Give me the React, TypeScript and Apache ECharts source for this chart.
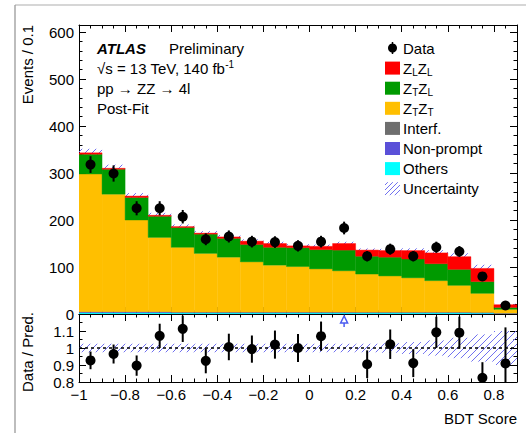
import React, { useEffect, useRef } from "react";
import * as echarts from "echarts";

// ---------------- data ----------------
const binCenters = [-0.95, -0.85, -0.75, -0.65, -0.55, -0.45, -0.35, -0.25, -0.15, -0.05, 0.05, 0.15, 0.25, 0.35, 0.45, 0.55, 0.65, 0.75, 0.85];
const binHalfWidth = 0.05;

const others = [3, 3, 3, 3, 2.5, 2.5, 2.5, 2.5, 2.5, 2.5, 2.5, 2.5, 2.5, 2.5, 2.5, 2.5, 2.5, 2, 1];
const nonPrompt = [1.5, 1.5, 1.5, 1.5, 1, 1, 1, 1, 1, 1, 1, 1, 1, 1, 1, 1, 1, 1, 0.5];
const interf = [0.5, 0.5, 0.5, 0.5, 0.5, 0.5, 0.5, 0.5, 0.5, 0.5, 0.5, 0.5, 0.5, 0.5, 0.5, 0.5, 0.5, 0.5, 0.5];
const ztzt = [293, 250, 195, 158, 138, 125, 117, 107, 100, 97, 92, 88, 81, 77, 73, 67, 57, 40.5, 8];
const ztzl = [42, 53, 48, 45, 42, 41, 40, 37, 38, 40, 41, 44, 38, 40, 40, 36, 34, 25, 4];
const zlzl = [3, 2, 3, 2, 2, 2, 3, 7, 8, 4, 7, 14, 13, 14, 18, 23, 27, 28, 5.8];

const dataCounts = [318, 299, 225, 225, 207, 159, 165, 154, 153, 145, 154, 183, 123, 138, 123, 142, 133, 80, 18];
const dataErrors = [17.8, 17.3, 15, 15, 14.4, 12.6, 12.8, 12.4, 12.4, 12, 12.4, 13.5, 11.1, 11.7, 11.1, 11.9, 11.5, 8.9, 4.2];
const relUncertainty = [0.025, 0.025, 0.025, 0.025, 0.025, 0.025, 0.025, 0.025, 0.025, 0.025, 0.025, 0.025, 0.025, 0.028, 0.035, 0.045, 0.06, 0.08, 0.1];

const mainYMax = 615;
const ratioMin = 0.8;
const ratioMax = 1.2;

// ---------------- styling ----------------
const FONT = '"Liberation Sans", Arial, Helvetica, sans-serif';
const HATCH = "#7070f0";
const ARROW = "#4b5cf0";

const components = [
  { name: "Others", values: others, color: "#00ffff" },
  { name: "Non-prompt", values: nonPrompt, color: "#5a50d8" },
  { name: "Interf.", values: interf, color: "#6e6e6e" },
  { name: "ZTZT", values: ztzt, color: "#ffbf00" },
  { name: "ZTZL", values: ztzl, color: "#009a00" },
  { name: "ZLZL", values: zlzl, color: "#ff0000" },
];

const total = binCenters.map((_, i) => components.reduce((s, c) => s + c.values[i], 0));

function hatchLines(x0: number, y0: number, x1: number, y1: number, step: number, color: string) {
  const out: any[] = [];
  const kStart = Math.ceil((x0 + y0) / step) * step;
  for (let k = kStart; k <= x1 + y1; k += step) {
    const xa = Math.max(x0, k - y1);
    const xb = Math.min(x1, k - y0);
    if (xb > xa) {
      out.push({
        type: "line",
        shape: { x1: xa, y1: k - xa, x2: xb, y2: k - xb },
        style: { stroke: color, lineWidth: 1 },
      });
    }
  }
  return out;
}

function hatchRenderItem(params: any, api: any) {
  const p0 = api.coord([api.value(0), api.value(3)]);
  const p1 = api.coord([api.value(1), api.value(2)]);
  const r = params.coordSys;
  const y0 = Math.max(p0[1], r.y);
  const y1 = Math.min(p1[1], r.y + r.height);
  return { type: "group", children: hatchLines(p0[0], y0, p1[0], y1, 7, HATCH) };
}

function xLabel(v: number) {
  const r = Math.round(v * 10) / 10;
  return r < 0 ? "\u2212" + Math.abs(r) : String(r);
}

function makeX(gridIndex: number, position: string, showLabel: boolean) {
  return {
    type: "value",
    gridIndex,
    position,
    min: -1,
    max: 0.9,
    interval: 0.2,
    axisLine: { show: true, onZero: false, lineStyle: { color: "#000", width: 1 } },
    axisTick: { show: true, inside: true, length: 7, lineStyle: { color: "#000" } },
    minorTick: { show: true, splitNumber: 4, length: 3.5, lineStyle: { color: "#000" } },
    axisLabel: {
      show: showLabel,
      formatter: xLabel,
      showMaxLabel: false,
      color: "#000",
      fontSize: 15,
      fontFamily: FONT,
      margin: 5,
    },
    splitLine: { show: false },
    minorSplitLine: { show: false },
  };
}

function makeY(gridIndex: number, position: string, showLabel: boolean, min: number, max: number, interval: number, minorSplit: number, fmt: (v: number) => string) {
  return {
    type: "value",
    gridIndex,
    position,
    min,
    max,
    interval,
    axisLine: { show: true, onZero: false, lineStyle: { color: "#000", width: 1 } },
    axisTick: { show: true, inside: true, length: 7, lineStyle: { color: "#000" } },
    minorTick: { show: true, splitNumber: minorSplit, length: 3.5, lineStyle: { color: "#000" } },
    axisLabel: {
      show: showLabel,
      formatter: fmt,
      showMaxLabel: false,
      color: "#000",
      fontSize: 15,
      fontFamily: FONT,
      margin: 5,
    },
    splitLine: { show: false },
    minorSplitLine: { show: false },
  };
}

function richLabel(x: number, y: number, text: string) {
  return {
    type: "text",
    x,
    y,
    style: {
      text,
      fill: "#000",
      fontSize: 15,
      fontFamily: FONT,
      verticalAlign: "middle",
      align: "left",
      rich: {
        m: { fontSize: 15, fontFamily: FONT, lineHeight: 18, fill: "#000" },
        s: { fontSize: 10, fontFamily: FONT, lineHeight: 10, verticalAlign: "bottom", fill: "#000" },
        p: { fontSize: 10, fontFamily: FONT, lineHeight: 10, verticalAlign: "top", fill: "#000" },
      },
    },
  };
}

function buildOption() {
  // stacked custom series
  const stackSeries: any[] = [];
  const base = binCenters.map(() => 0);
  components.forEach((c) => {
    const data = binCenters.map((x, i) => [x - binHalfWidth, x + binHalfWidth, base[i], base[i] + c.values[i]]);
    binCenters.forEach((_, i) => (base[i] += c.values[i]));
    stackSeries.push({
      type: "custom",
      name: c.name,
      xAxisIndex: 0,
      yAxisIndex: 0,
      z: 3,
      clip: true,
      data,
      renderItem: (params: any, api: any) => {
        const p0 = api.coord([api.value(0), api.value(3)]);
        const p1 = api.coord([api.value(1), api.value(2)]);
        return {
          type: "rect",
          shape: { x: p0[0], y: p0[1], width: p1[0] - p0[0], height: p1[1] - p0[1] },
          style: { fill: c.color, stroke: c.color, lineWidth: 0.4 },
        };
      },
    });
  });

  const mainHatch = {
    type: "custom",
    name: "Uncertainty",
    xAxisIndex: 0,
    yAxisIndex: 0,
    z: 2,
    clip: true,
    data: binCenters.map((x, i) => [x - binHalfWidth, x + binHalfWidth, total[i] * (1 - relUncertainty[i]), total[i] * (1 + relUncertainty[i])]),
    renderItem: hatchRenderItem,
  };

  const ratioHatch = {
    type: "custom",
    name: "Uncertainty ratio",
    xAxisIndex: 2,
    yAxisIndex: 2,
    z: 2,
    clip: true,
    data: binCenters.map((x, i) => [x - binHalfWidth, x + binHalfWidth, 1 - relUncertainty[i], 1 + relUncertainty[i]]),
    renderItem: hatchRenderItem,
  };

  const pointRender = (params: any, api: any) => {
    const x = api.value(0);
    const y = api.value(1);
    const e = api.value(2);
    const p = api.coord([x, y]);
    const t = api.coord([x, y + e]);
    const b = api.coord([x, y - e]);
    return {
      type: "group",
      children: [
        { type: "line", shape: { x1: p[0], y1: t[1], x2: p[0], y2: b[1] }, style: { stroke: "#000", lineWidth: 2 } },
        { type: "circle", shape: { cx: p[0], cy: p[1], r: 5 }, style: { fill: "#000" } },
      ],
    };
  };

  const dataSeries = {
    type: "custom",
    name: "Data",
    xAxisIndex: 0,
    yAxisIndex: 0,
    z: 6,
    clip: true,
    data: binCenters.map((x, i) => [x, dataCounts[i], dataErrors[i]]),
    renderItem: pointRender,
  };

  const ratioVals = binCenters.map((x, i) => [x, dataCounts[i] / total[i], dataErrors[i] / total[i]]);
  const ratioSeries = {
    type: "custom",
    name: "Data / Pred.",
    xAxisIndex: 2,
    yAxisIndex: 2,
    z: 6,
    clip: true,
    data: ratioVals.filter((d) => d[1] <= ratioMax),
    renderItem: pointRender,
  };

  const arrowSeries = {
    type: "custom",
    name: "Overflow",
    xAxisIndex: 2,
    yAxisIndex: 2,
    z: 7,
    clip: false,
    data: ratioVals.filter((d) => d[1] > ratioMax).map((d) => [d[0], ratioMax]),
    renderItem: (params: any, api: any) => {
      const p = api.coord([api.value(0), api.value(1)]);
      const cx = p[0];
      const top = p[1];
      return {
        type: "group",
        children: [
          { type: "line", shape: { x1: cx, y1: top + 9, x2: cx, y2: top + 13 }, style: { stroke: ARROW, lineWidth: 1.5 } },
          {
            type: "polygon",
            shape: { points: [[cx, top + 2], [cx - 3.5, top + 9], [cx + 3.5, top + 9]] },
            style: { fill: "#fff", stroke: ARROW, lineWidth: 1.5 },
          },
        ],
      };
    },
  };

  const unityLine = {
    type: "line",
    name: "unity",
    xAxisIndex: 2,
    yAxisIndex: 2,
    z: 4,
    symbol: "none",
    silent: true,
    data: [[-1, 1], [0.9, 1]],
    lineStyle: { color: "#000", width: 1.3, type: [3, 3] },
  };

  // legend (graphic)
  const legendX = 385;
  const legendTextX = 403;
  const legendY0 = 48;
  const legendStep = 20.1;
  const legendEntries = [
    { label: "{m|Data}", kind: "data" },
    { label: "{m|Z}{s|L}{m|Z}{s|L}", kind: "box", color: "#ff0000" },
    { label: "{m|Z}{s|T}{m|Z}{s|L}", kind: "box", color: "#009a00" },
    { label: "{m|Z}{s|T}{m|Z}{s|T}", kind: "box", color: "#ffbf00" },
    { label: "{m|Interf.}", kind: "box", color: "#6e6e6e" },
    { label: "{m|Non-prompt}", kind: "box", color: "#5a50d8" },
    { label: "{m|Others}", kind: "box", color: "#00ffff" },
    { label: "{m|Uncertainty}", kind: "hatch" },
  ];
  const legendGraphics: any[] = [];
  legendEntries.forEach((e, k) => {
    const y = legendY0 + legendStep * k;
    if (e.kind === "data") {
      legendGraphics.push({ type: "line", shape: { x1: legendX + 7.5, y1: y - 6, x2: legendX + 7.5, y2: y + 6 }, style: { stroke: "#000", lineWidth: 1.5 } });
      legendGraphics.push({ type: "circle", shape: { cx: legendX + 7.5, cy: y, r: 4.5 }, style: { fill: "#000" } });
    } else if (e.kind === "box") {
      legendGraphics.push({ type: "rect", shape: { x: legendX, y: y - 6.5, width: 15, height: 13 }, style: { fill: e.color } });
    } else {
      legendGraphics.push({ type: "group", children: hatchLines(legendX, y - 6.5, legendX + 15, y + 6.5, 5, HATCH) });
    }
    legendGraphics.push(richLabel(legendTextX, y, e.label));
  });

  const graphics: any[] = [
    { type: "line", shape: { x1: 15, y1: 5, x2: 526, y2: 5 }, style: { stroke: "#d6d6d6", lineWidth: 2 } },
    { type: "line", shape: { x1: 15, y1: 5, x2: 15, y2: 433 }, style: { stroke: "#9a9a9a", lineWidth: 1.3 } },
    {
      type: "text",
      x: 27,
      y: 25,
      rotation: Math.PI / 2,
      style: { text: "Events / 0.1", fill: "#000", fontSize: 15, fontFamily: FONT, align: "right", verticalAlign: "middle" },
    },
    {
      type: "text",
      x: 27,
      y: 352,
      rotation: Math.PI / 2,
      style: { text: "Data / Pred.", fill: "#000", fontSize: 15, fontFamily: FONT, align: "center", verticalAlign: "middle" },
    },
    {
      type: "text",
      x: 517,
      y: 418,
      style: { text: "BDT Score", fill: "#000", fontSize: 15, fontFamily: FONT, align: "right", verticalAlign: "middle" },
    },
    {
      type: "text",
      x: 97,
      y: 48,
      style: { text: "ATLAS", fill: "#000", fontSize: 15, fontWeight: "bold", fontStyle: "italic", fontFamily: FONT, align: "left", verticalAlign: "middle" },
    },
    {
      type: "text",
      x: 169,
      y: 48,
      style: { text: "Preliminary", fill: "#000", fontSize: 15, fontFamily: FONT, align: "left", verticalAlign: "middle" },
    },
    richLabel(97, 68, "{m|\u221As = 13 TeV, 140 fb}{p|-1}"),
    richLabel(97, 88, "{m|pp \u2192 ZZ \u2192 4l}"),
    richLabel(97, 108, "{m|Post-Fit}"),
    ...legendGraphics,
  ];

  return {
    animation: false,
    backgroundColor: "#ffffff",
    grid: [
      { left: 79, top: 25, width: 438, height: 289, show: false },
      { left: 79, top: 314, width: 438, height: 68, show: false },
    ],
    xAxis: [makeX(0, "bottom", false), makeX(0, "top", false), makeX(1, "bottom", true), makeX(1, "top", false)],
    yAxis: [
      makeY(0, "left", true, 0, mainYMax, 100, 5, (v) => String(Math.round(v))),
      makeY(0, "right", false, 0, mainYMax, 100, 5, (v) => String(Math.round(v))),
      makeY(1, "left", true, ratioMin, ratioMax, 0.1, 2, (v) => String(Math.round(v * 10) / 10)),
      makeY(1, "right", false, ratioMin, ratioMax, 0.1, 2, (v) => String(Math.round(v * 10) / 10)),
    ],
    series: [mainHatch, ...stackSeries, dataSeries, ratioHatch, unityLine, ratioSeries, arrowSeries],
    graphic: graphics,
  };
}

export default function App() {
  const ref = useRef<HTMLDivElement>(null);
  useEffect(() => {
    if (!ref.current) return;
    const chart = echarts.init(ref.current, null, { renderer: "svg" });
    chart.setOption(buildOption() as any);
    return () => {
      chart.dispose();
    };
  }, []);
  return (
    <div
      ref={ref}
      style={{ position: "fixed", left: 0, top: 0, width: 526, height: 433, background: "#fff" }}
    />
  );
}
